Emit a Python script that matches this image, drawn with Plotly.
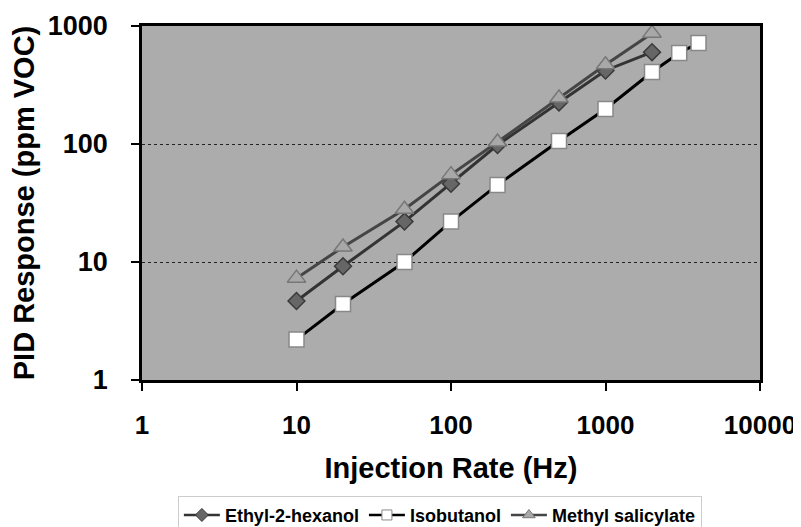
import plotly.graph_objects as go

# Data
rate_ethyl = [10, 20, 50, 100, 200, 500, 1000, 2000]
resp_ethyl = [4.67, 9.2, 22, 46, 98, 225, 420, 600]

rate_iso = [10, 20, 50, 100, 200, 500, 1000, 2000, 3000, 4000]
resp_iso = [2.2, 4.4, 10, 22, 45, 106, 198, 407, 590, 718]

rate_methyl = [10, 20, 50, 100, 200, 500, 1000, 2000]
resp_methyl = [7.3, 13.4, 28, 55, 104, 245, 470, 870]

x_tickvals = [1, 10, 100, 1000, 10000]
x_ticktext = ["1", "10", "100", "1000", "10000"]
y_tickvals = [1, 10, 100, 1000]
y_ticktext = ["1", "10", "100", "1000"]

FONT = "Liberation Sans, Arial, sans-serif"

series = [
    dict(name="Ethyl-2-hexanol", x=rate_ethyl, y=resp_ethyl,
         line=dict(color="#333333", width=3),
         sym="diamond", size=13, fill="#666666", edge="#3a3a3a", lsize=10),
    dict(name="Isobutanol", x=rate_iso, y=resp_iso,
         line=dict(color="#000000", width=3),
         sym="square", size=15, fill="#ffffff", edge="#888888", lsize=10),
    dict(name="Methyl salicylate", x=rate_methyl, y=resp_methyl,
         line=dict(color="#454545", width=3),
         sym="triangle-up", size=16, fill="#a8a8a8", edge="#777777", lsize=11),
]

fig = go.Figure()
for s in series:
    fig.add_trace(go.Scatter(
        x=s["x"], y=s["y"], name=s["name"], mode="lines+markers",
        line=s["line"], showlegend=False,
        marker=dict(symbol=s["sym"], size=s["size"], color=s["fill"],
                    line=dict(color=s["edge"], width=1.5)),
    ))
# legend proxies (smaller legend symbols, as in the reference)
for s in series:
    fig.add_trace(go.Scatter(
        x=[None], y=[None], name=s["name"], mode="lines+markers",
        line=dict(color=s["line"]["color"], width=2.5), showlegend=True,
        marker=dict(symbol=s["sym"], size=s["lsize"], color=s["fill"],
                    line=dict(color=s["edge"], width=1)),
    ))

# The page adds an 8px body margin, so the figure is 8px smaller on each side
fig.update_layout(
    width=793, height=519,
    margin=dict(l=134, r=41, t=18, b=147, autoexpand=False),
    paper_bgcolor="white",
    plot_bgcolor="#acacac",
    font=dict(family=FONT, color="black"),
    showlegend=True,
    legend=dict(
        orientation="h", x=0.482, xanchor="center", y=-0.327, yanchor="top",
        bordercolor="#cccccc", borderwidth=1,
        font=dict(size=18, family=FONT, weight="bold"),
        itemwidth=36, tracegroupgap=0,
    ),
    xaxis=dict(
        type="log", range=[0, 4], automargin=False,
        tickvals=x_tickvals, ticktext=x_ticktext,
        showgrid=False, zeroline=False,
        showline=True, linecolor="black", linewidth=2.5, mirror=True,
        ticks="outside", ticklen=8, tickwidth=2, tickcolor="black",
        ticklabelstandoff=12,
        tickfont=dict(size=26, family=FONT, weight="bold"),
        title=dict(text="Injection Rate (Hz)", standoff=19,
                   font=dict(size=29, family=FONT, weight="bold")),
    ),
    yaxis=dict(
        type="log", range=[0, 3], automargin=False,
        tickvals=y_tickvals, ticktext=y_ticktext,
        showgrid=True, gridcolor="#222222", griddash="dot", gridwidth=1.2,
        zeroline=False,
        showline=True, linecolor="black", linewidth=2.5, mirror=True,
        ticks="outside", ticklen=8, tickwidth=2, tickcolor="black",
        ticklabelstandoff=18,
        tickfont=dict(size=27, family=FONT, weight="bold"),
        title=dict(text="PID Response (ppm VOC)", standoff=14,
                   font=dict(size=29, family=FONT, weight="bold")),
    ),
)

fig.write_html("out.html")
